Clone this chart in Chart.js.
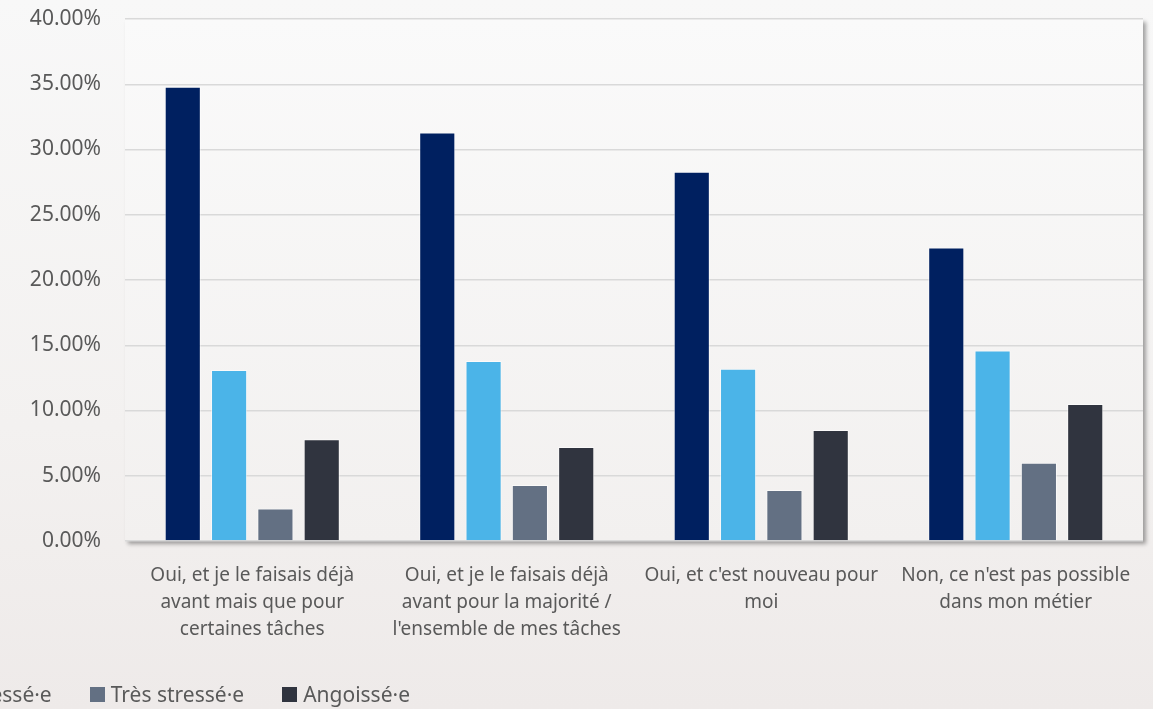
<!DOCTYPE html>
<html lang="fr">
<head>
    <meta charset="UTF-8">
    <title>Télétravail et stress</title>
    <script src="https://cdn.jsdelivr.net/npm/chart.js"></script>
    <style>
        html, body { margin: 0; padding: 0; }
        body {
            width: 1153px; height: 709px; overflow: hidden; position: relative;
            background: linear-gradient(to bottom, #f8f8f8 0%, #f3f1f0 60%, #eeeae9 100%);
            font-family: "Noto Sans", "Open Sans", sans-serif;
        }
        .chart-wrap { position: absolute; left: 0; top: 0; width: 1153px; height: 709px; }
        #legend {
            position: absolute; right: 743px; bottom: 1px;
            white-space: nowrap; font-size: 21px; color: #595959;
            display: flex; align-items: center;
        }
        #legend .item { display: flex; align-items: center; margin-left: 38px; }
        #legend .box { width: 15px; height: 15px; margin-right: 6px; }
    </style>
</head>
<body>
    <div class="chart-wrap"><canvas id="chart"></canvas></div>
    <div id="legend"></div>
    <script>
        // categories (multi-line labels)
        const categories = [
            ["Oui, et je le faisais déjà", "avant mais que pour", "certaines tâches"],
            ["Oui, et je le faisais déjà", "avant pour la majorité /", "l'ensemble de mes tâches"],
            ["Oui, et c'est nouveau pour", "moi"],
            ["Non, ce n'est pas possible", "dans mon métier"]
        ];
        const seriesNames = ["Serein·e", "Stressé·e", "Très stressé·e", "Angoissé·e"];
        const seriesColors = ["#002060", "#4bb4e8", "#637083", "#30343f"];

        // values in %
        const sereinValues = [34.8, 31.3, 28.3, 22.5];
        const stresseValues = [13.1, 13.8, 13.2, 14.6];
        const tresStresseValues = [2.5, 4.3, 3.9, 6.0];
        const angoisseValues = [7.8, 7.2, 8.5, 10.5];

        const yTicks = [0, 5, 10, 15, 20, 25, 30, 35, 40];

        const allValues = [sereinValues, stresseValues, tresStresseValues, angoisseValues];

        // fond de la zone de tracé avec ombre
        const plotBg = {
            id: 'plotBg',
            beforeDraw(chart) {
                const { ctx, chartArea: a } = chart;
                ctx.save();
                const g = ctx.createLinearGradient(0, a.top, 0, a.bottom);
                g.addColorStop(0, '#fafafa');
                g.addColorStop(1, '#f2f0ef');
                ctx.shadowColor = 'rgba(0,0,0,0.35)';
                ctx.shadowBlur = 4;
                ctx.shadowOffsetX = 3;
                ctx.shadowOffsetY = 3;
                ctx.fillStyle = g;
                ctx.fillRect(a.left, a.top, a.right - a.left, a.bottom - a.top);
                ctx.restore();
            }
        };

        const ctx = document.getElementById('chart').getContext('2d');
        const chart = new Chart(ctx, {
            type: 'bar',
            data: {
                labels: categories,
                datasets: seriesNames.map((name, i) => ({
                    label: name,
                    data: allValues[i],
                    backgroundColor: seriesColors[i],
                    borderColor: 'rgba(255,255,255,0.55)',
                    borderWidth: 1,
                    categoryPercentage: 0.728,
                    barPercentage: 0.78
                }))
            },
            options: {
                responsive: true,
                maintainAspectRatio: false,
                animation: false,
                layout: { padding: { top: 19, right: 10, left: 0, bottom: 0 } },
                plugins: {
                    legend: { display: false },
                    tooltip: { enabled: false }
                },
                scales: {
                    x: {
                        grid: { display: false, drawTicks: false },
                        border: { display: false },
                        ticks: {
                            color: '#595959',
                            font: { family: 'Noto Sans', size: 19, lineHeight: 1.42 },
                            padding: 21,
                            maxRotation: 0,
                            autoSkip: false
                        },
                        afterFit(scale) { scale.height = 168; }
                    },
                    y: {
                        min: 0,
                        max: 40,
                        afterBuildTicks(scale) { scale.ticks = yTicks.map(v => ({ value: v })); },
                        grid: { color: '#d9d9d9', lineWidth: 1.5, drawTicks: false },
                        border: { display: false },
                        ticks: {
                            color: '#595959',
                            font: { family: 'Noto Sans', size: 21 },
                            padding: 24,
                            callback: v => v.toFixed(2) + '%'
                        },
                        afterFit(scale) {
                            scale.width = 125;
                            scale.paddingTop = 0;
                            scale.paddingBottom = 0;
                        }
                    }
                }
            },
            plugins: [plotBg]
        });

        // légende HTML (coupée à gauche comme dans l'original)
        const legendEl = document.getElementById('legend');
        chart.data.datasets.forEach(ds => {
            const item = document.createElement('div');
            item.className = 'item';
            item.innerHTML = `<span class="box" style="background:${ds.backgroundColor}"></span><span>${ds.label}</span>`;
            legendEl.appendChild(item);
        });
    </script>
</body>
</html>
